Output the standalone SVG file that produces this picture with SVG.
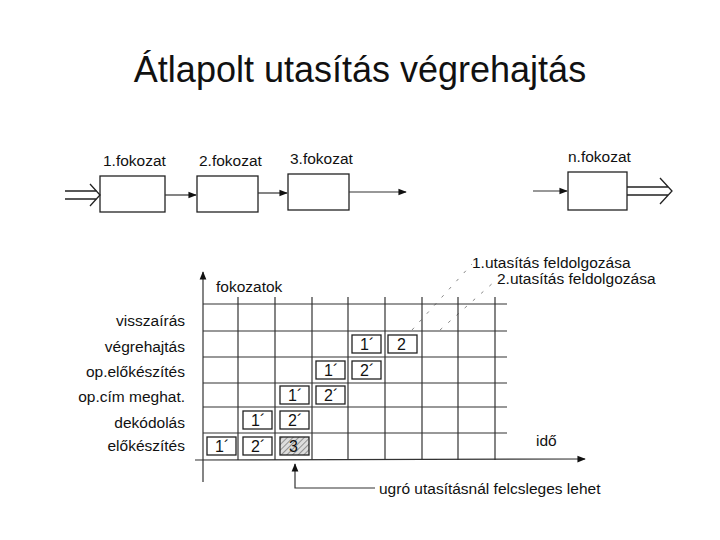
<svg xmlns="http://www.w3.org/2000/svg" width="720" height="540" viewBox="0 0 720 540">
<defs>
<style>
text{font-family:"Liberation Sans",Arial,sans-serif;fill:#111}
.l{font-size:15.5px}
.r{text-anchor:end}
.b{fill:#fff;stroke:#222;stroke-width:1.3}
.g{stroke:#333;stroke-width:1.2}
.c{fill:none;stroke:#222;stroke-width:1.3}
.d{stroke:#888;stroke-width:1;stroke-dasharray:3 8}
</style>
<marker id="a" viewBox="0 0 10 10" refX="9" refY="5" markerWidth="7" markerHeight="7" orient="auto"><path d="M0,1 L10,5 L0,9 Z" fill="#111"/></marker>
<pattern id="h" width="4" height="4" patternUnits="userSpaceOnUse" patternTransform="rotate(45)"><rect width="4" height="4" fill="#ddd"/><line x1="0" y1="0" x2="0" y2="4" stroke="#777" stroke-width="1.5"/></pattern>
</defs>
<rect width="720" height="540" fill="#fff"/>
<text x="360" y="82" font-size="36" text-anchor="middle">Átlapolt utasítás végrehajtás</text>

<g id="f1"><rect class="b" x="100" y="176" width="65" height="36"/><text class="l" x="103" y="166">1.fokozat</text></g>
<g id="f2"><rect class="b" x="197" y="176" width="61" height="36"/><text class="l" x="199" y="166">2.fokozat</text></g>
<g id="f3"><rect class="b" x="288" y="174" width="61" height="36"/><text class="l" x="290" y="164">3.fokozat</text></g>
<g id="fn"><rect class="b" x="568" y="172" width="59" height="38"/><text class="l" x="568" y="162">n.fokozat</text></g>

<g id="connectors">
<path class="c" d="M65,191 H97 M65,199 H97 M90,184 L100,195 L90,206"/>
<line class="g" x1="165" y1="195" x2="196" y2="195" marker-end="url(#a)"/>
<line class="g" x1="258" y1="193" x2="287" y2="193" marker-end="url(#a)"/>
<line class="g" x1="349" y1="192" x2="406" y2="192" marker-end="url(#a)"/>
<line class="g" x1="533" y1="191" x2="567" y2="191" marker-end="url(#a)"/>
<path class="c" d="M627,187 H668 M627,195 H668 M660,178 L672,191 L660,204"/>
<line class="g" x1="203" y1="482" x2="203" y2="272" stroke-width="1.6" marker-end="url(#a)"/>
<line class="g" x1="195" y1="460" x2="585" y2="459" stroke-width="2.2" marker-end="url(#a)"/>
<path class="g" fill="none" d="M375,488 H295 V464" marker-end="url(#a)"/>
<line class="d" x1="412" y1="330" x2="472" y2="264"/>
<line class="d" x1="440" y1="330" x2="494" y2="282"/>
</g>

<g id="grid" class="g">
<line x1="238" y1="297" x2="238" y2="460"/><line x1="275" y1="297" x2="275" y2="460"/>
<line x1="312" y1="297" x2="312" y2="460"/><line x1="348" y1="297" x2="348" y2="460"/>
<line x1="385" y1="297" x2="385" y2="460"/><line x1="422" y1="297" x2="422" y2="460"/>
<line x1="458" y1="297" x2="458" y2="460"/><line x1="495" y1="297" x2="495" y2="460"/>
<line x1="203" y1="304" x2="507" y2="304"/><line x1="203" y1="331" x2="507" y2="331"/>
<line x1="203" y1="357" x2="507" y2="357"/><line x1="203" y1="383" x2="507" y2="383"/>
<line x1="203" y1="407" x2="507" y2="407"/><line x1="203" y1="433" x2="507" y2="433"/>
</g>

<g id="cells" font-size="16">
<rect class="b" x="207" y="437" width="29" height="18"/><text x="215" y="452">1´</text>
<rect class="b" x="243" y="437" width="29" height="18"/><text x="251" y="452">2´</text>
<rect x="280" y="437" width="29" height="18" fill="url(#h)" stroke="#222" stroke-width="1.3"/><text x="289" y="452">3</text>
<rect class="b" x="243" y="411" width="29" height="18"/><text x="251" y="426">1´</text>
<rect class="b" x="280" y="411" width="29" height="18"/><text x="288" y="426">2´</text>
<rect class="b" x="280" y="386" width="29" height="18"/><text x="288" y="401">1´</text>
<rect class="b" x="316" y="386" width="29" height="18"/><text x="324" y="401">2´</text>
<rect class="b" x="316" y="361" width="29" height="18"/><text x="324" y="376">1´</text>
<rect class="b" x="352" y="361" width="29" height="18"/><text x="360" y="376">2´</text>
<rect class="b" x="352" y="335" width="29" height="18"/><text x="360" y="350">1´</text>
<rect class="b" x="388" y="335" width="29" height="18"/><text x="397" y="350">2</text>
</g>

<g id="labels" class="l">
<text x="216" y="292">fokozatok</text>
<text class="r" x="185" y="326">visszaírás</text>
<text class="r" x="185" y="352">végrehajtás</text>
<text class="r" x="185" y="377">op.előkészítés</text>
<text class="r" x="185" y="402">op.cím meghat.</text>
<text class="r" x="185" y="428">dekódolás</text>
<text class="r" x="185" y="451">előkészítés</text>
<text x="472" y="268">1.utasítás feldolgozása</text>
<text x="497" y="284">2.utasítás feldolgozása</text>
<text x="536" y="446">idő</text>
<text x="379" y="494">ugró utasításnál felcsleges lehet</text>
</g>
</svg>
